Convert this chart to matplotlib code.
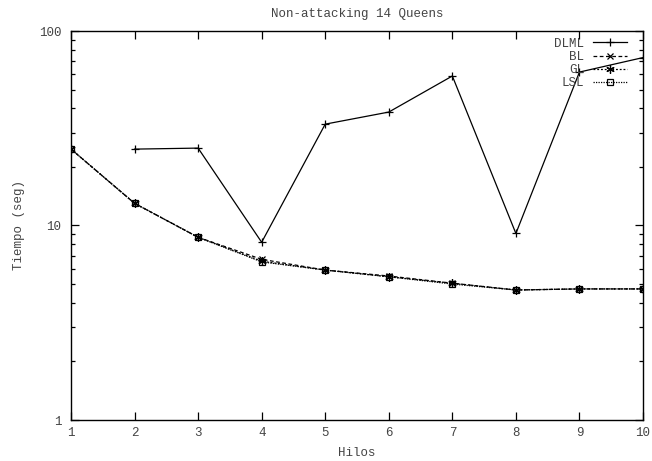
import matplotlib
matplotlib.use("Agg")
import matplotlib.pyplot as plt
from matplotlib.ticker import FixedLocator, NullFormatter, FixedFormatter

# threads
hilos = [1, 2, 3, 4, 5, 6, 7, 8, 9, 10]
hilos_dlml = [2, 3, 4, 5, 6, 7, 8, 9, 10]

# times (s)
dlml = [24.7, 25.0, 8.2, 33.2, 38.3, 58.7, 9.1, 61.5, 73.0]
bl = [24.7, 13.0, 8.7, 6.7, 5.9, 5.5, 5.05, 4.66, 4.72, 4.72]
gl = [24.7, 13.0, 8.7, 6.55, 5.9, 5.45, 5.05, 4.66, 4.72, 4.72]
lsl = [24.7, 13.0, 8.7, 6.5, 5.9, 5.45, 5.0, 4.66, 4.72, 4.72]

plt.rcParams['font.family'] = ['Liberation Mono', 'DejaVu Sans Mono']
txt = '#444444'
fs = 9

fig = plt.figure(figsize=(6.52, 4.61), dpi=100)
ax = fig.add_axes([71 / 652, 41 / 461, 572 / 652, 389 / 461])

ax.plot(hilos_dlml, dlml, color='black', lw=0.9, marker='+', ms=6, mew=0.9, label='DLML')
ax.plot(hilos, bl, color='black', lw=0.9, ls=(0, (3, 2)), marker='x', ms=5, mew=0.9, label='BL')
ax.plot(hilos, gl, color='black', lw=0.9, ls=(0, (1.5, 1.5)), marker=(6, 2, 0), ms=6, mew=0.9, label='GL')
ax.plot(hilos, lsl, color='black', lw=0.9, ls=(0, (1, 1)), marker='s', ms=5, mew=0.9,
        fillstyle='none', label='LSL')

ax.set_yscale('log')
ax.set_xlim(1, 10)
ax.set_ylim(1, 100)

ax.xaxis.set_major_locator(FixedLocator(hilos))
ax.yaxis.set_major_locator(FixedLocator([1, 10, 100]))
ax.yaxis.set_major_formatter(FixedFormatter(['1', '10', '100']))
ax.yaxis.set_minor_locator(FixedLocator([m * d for d in (1, 10) for m in range(2, 10)]))
ax.yaxis.set_minor_formatter(NullFormatter())

ax.tick_params(which='both', direction='in', top=True, right=True, labelsize=fs, labelcolor=txt, width=0.9)
ax.tick_params(which='major', length=6)
ax.tick_params(which='minor', length=3)
ax.tick_params(axis='x', which='major', pad=5)
ax.tick_params(axis='y', which='major', pad=7)
for s in ax.spines.values():
    s.set_linewidth(1.0)

ax.set_title('Non-attacking 14 Queens', fontsize=fs, color=txt, pad=10)
ax.set_xlabel('Hilos', fontsize=fs, color=txt, labelpad=6)
ax.set_ylabel('Tiempo (seg)', fontsize=fs, color=txt, labelpad=10)

leg = ax.legend(loc='upper right', bbox_to_anchor=(1 - 5 / 572, 1 + 4.5 / 389),
                frameon=False, markerfirst=False, fontsize=fs,
                handlelength=2.7, handletextpad=0.7, labelspacing=0.1,
                borderaxespad=0.5, borderpad=0.4)
for t in leg.get_texts():
    t.set_color(txt)

fig.savefig('out.png', dpi=100)
